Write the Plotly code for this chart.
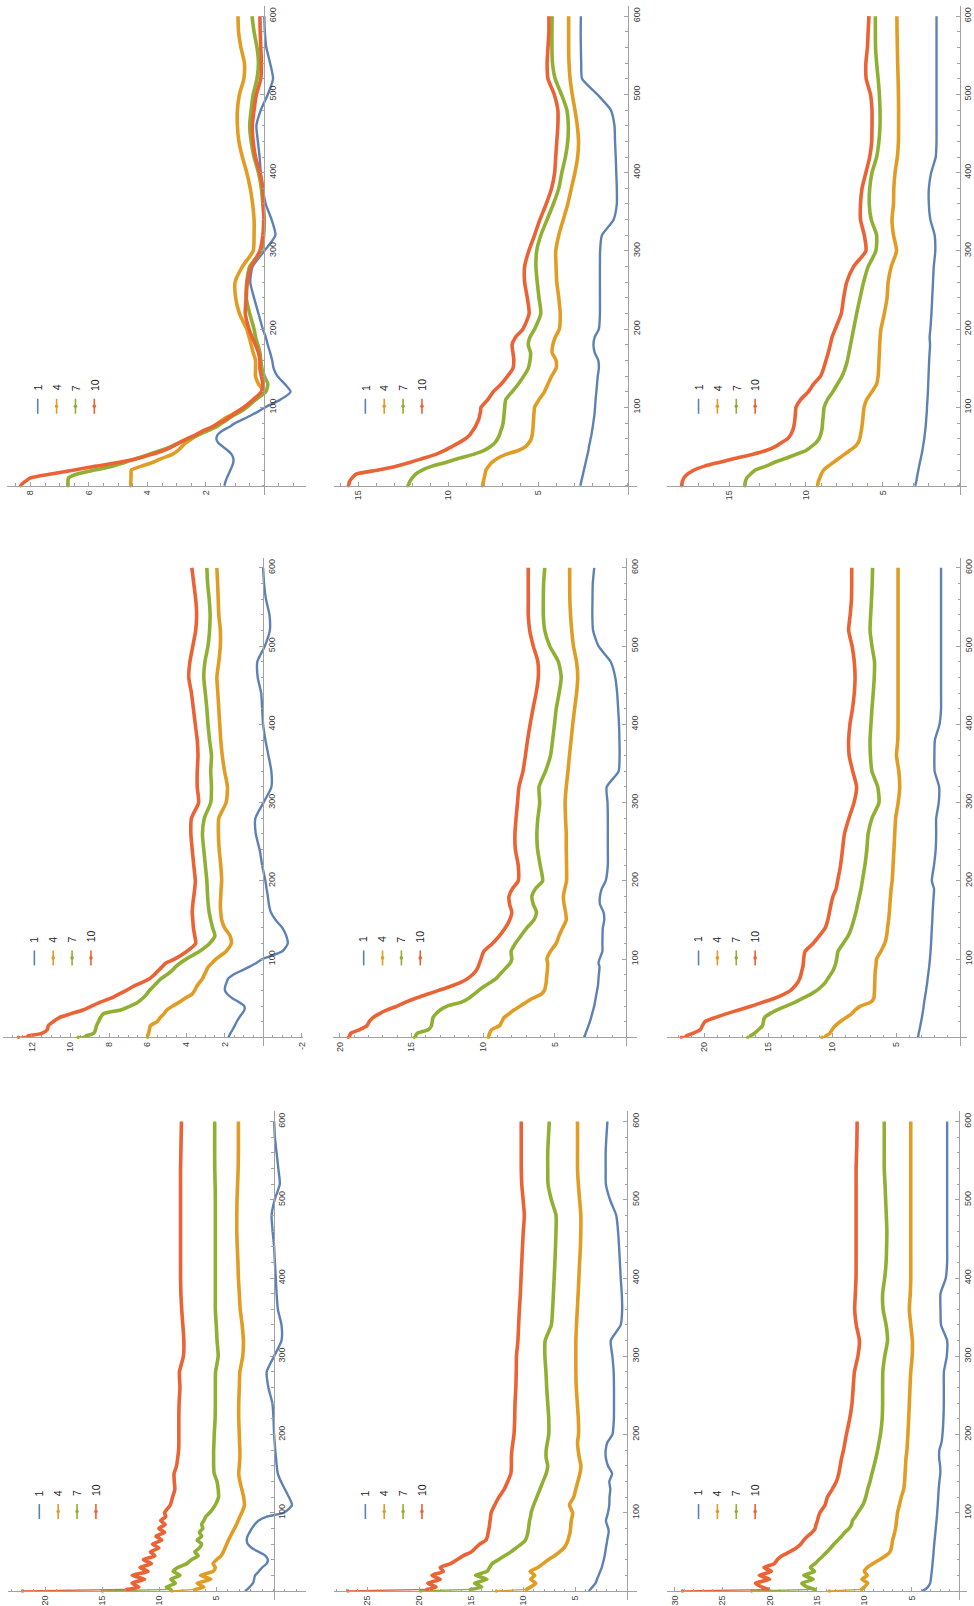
import math
import plotly.graph_objects as go

# sample times (shared by every series)
T = [0, 2] + list(range(5, 101, 5)) + list(range(110, 201, 10)) + list(range(220, 601, 20))
LABELS = ["1", "4", "7", "10"]
COLORS = ["#5E81B5", "#E19C24", "#8FB032", "#EB6235"]

# ---- top row -------------------------------------------------------------
a1_s1 = [1.37, 1.35, 1.33, 1.28, 1.22, 1.16, 1.1, 1.06, 1.06, 1.12, 1.25, 1.42, 1.58, 1.64, 1.6, 1.45, 1.2, 1.0, 0.72, 0.45, 0.2, -0.02,
         -0.55, -0.9, -0.7, -0.45, -0.32, -0.27, -0.2, -0.12, -0.05, 0.05,
         0.2, 0.35, 0.48, 0.4, 0.0, -0.38, -0.25, -0.05, 0.05, 0.12, 0.16, 0.22, 0.27, 0.12, -0.12, -0.3, -0.2, -0.07, -0.02, 0.0]
a1_s4 = [4.57, 4.57, 4.57, 4.56, 4.56, 4.55, 4.2, 3.8, 3.5, 3.15, 2.95, 2.82, 2.68, 2.48, 2.28, 2.0, 1.75, 1.58, 1.4, 1.15, 0.9, 0.7,
         0.3, 0.02, 0.2, 0.3, 0.3, 0.3, 0.38, 0.45, 0.52, 0.6,
         0.85, 0.98, 1.0, 0.75, 0.38, 0.35, 0.35, 0.4, 0.48, 0.6, 0.75, 0.87, 0.92, 0.92, 0.85, 0.7, 0.68, 0.8, 0.88, 0.9]
a1_s7 = [6.72, 6.72, 6.72, 6.7, 6.4, 5.8, 5.2, 4.75, 4.35, 3.95, 3.55, 3.2, 2.9, 2.6, 2.25, 1.95, 1.65, 1.45, 1.25, 1.05, 0.8, 0.6,
         0.3, -0.05, -0.12, 0.0, 0.08, 0.12, 0.15, 0.22, 0.3, 0.35,
         0.5, 0.62, 0.6, 0.5, 0.1, 0.02, 0.0, 0.05, 0.1, 0.2, 0.35, 0.45, 0.5, 0.45, 0.38, 0.25, 0.2, 0.25, 0.35, 0.42]
a1_s10 = [8.34, 8.3, 8.2, 8.0, 7.3, 6.5, 5.75, 4.95, 4.3, 3.85, 3.45, 3.15, 2.9, 2.65, 2.35, 2.1, 1.8, 1.55, 1.3, 1.1, 0.9, 0.7,
          0.38, 0.1, 0.05, 0.1, 0.15, 0.15, 0.2, 0.3, 0.42, 0.52,
          0.65, 0.62, 0.58, 0.45, 0.15, 0.05, 0.02, 0.03, 0.05, 0.15, 0.3, 0.38, 0.41, 0.35, 0.27, 0.12, 0.1, 0.12, 0.14, 0.15]

a2_s1 = [2.65, 2.63, 2.6, 2.55, 2.5, 2.45, 2.4, 2.35, 2.3, 2.25, 2.2, 2.17, 2.12, 2.08, 2.03, 2.0, 1.96, 1.93, 1.9, 1.87, 1.85, 1.83,
         1.8, 1.76, 1.72, 1.68, 1.62, 1.65, 1.85, 1.92, 1.85, 1.62,
         1.56, 1.56, 1.56, 1.56, 1.55, 1.45, 0.8, 0.62, 0.62, 0.65, 0.68, 0.72, 0.75, 0.95, 1.7, 2.55, 2.6, 2.62, 2.63, 2.62]
a2_s4 = [8.1, 8.08, 8.05, 8.0, 7.95, 7.9, 7.75, 7.55, 7.25, 6.8, 6.1, 5.7, 5.5, 5.38, 5.33, 5.3, 5.28, 5.27, 5.25, 5.24, 5.22, 5.2,
         4.95, 4.65, 4.45, 4.25, 4.0, 4.0, 4.22, 4.18, 4.04, 3.82,
         3.77, 3.85, 3.96, 4.0, 4.02, 3.85, 3.6, 3.35, 3.15, 2.95, 2.8, 2.75, 2.82, 2.95, 3.1, 3.22, 3.28, 3.3, 3.3, 3.3]
a2_s7 = [12.25, 12.2, 12.15, 12.0, 11.8, 11.45, 10.9, 10.1, 9.4, 8.6, 8.0, 7.65, 7.4, 7.25, 7.15, 7.08, 7.0, 6.95, 6.92, 6.9, 6.88, 6.86,
         6.8, 6.45, 6.1, 5.8, 5.55, 5.45, 5.42, 5.55, 5.45, 5.2,
         4.85, 4.95, 5.05, 5.12, 5.08, 4.85, 4.5, 4.15, 3.85, 3.68, 3.48, 3.35, 3.32, 3.4, 3.7, 4.05, 4.2, 4.23, 4.23, 4.22]
a2_s10 = [15.56, 15.53, 15.5, 15.35, 15.1, 13.9, 12.9, 12.1, 11.4, 10.7, 10.2, 9.8, 9.4, 9.05, 8.8, 8.65, 8.5, 8.4, 8.3, 8.25, 8.2, 8.18,
          7.8, 7.5, 7.05, 6.7, 6.4, 6.35, 6.4, 6.45, 6.25, 5.85,
          5.5, 5.6, 5.75, 5.75, 5.52, 5.2, 4.9, 4.55, 4.25, 4.08, 4.02, 3.96, 3.9, 3.9, 4.1, 4.45, 4.5, 4.45, 4.4, 4.4]

a3_s1 = [2.88, 2.86, 2.82, 2.78, 2.73, 2.68, 2.63, 2.58, 2.52, 2.47, 2.42, 2.38, 2.34, 2.3, 2.27, 2.24, 2.21, 2.19, 2.17, 2.15, 2.13, 2.12,
         2.09, 2.06, 2.04, 2.02, 2.0, 1.98, 1.95, 1.92, 1.95, 1.9,
         1.83, 1.78, 1.73, 1.68, 1.58, 1.62, 1.9, 2.0, 2.0, 1.85, 1.55, 1.5, 1.5, 1.5, 1.5, 1.5, 1.5, 1.5, 1.5, 1.5]
a3_s4 = [9.25, 9.23, 9.2, 9.1, 9.0, 8.85, 8.55, 8.2, 7.85, 7.5, 7.15, 6.8, 6.6, 6.5, 6.45, 6.4, 6.36, 6.33, 6.3, 6.28, 6.25, 6.22,
         6.05, 5.7, 5.4, 5.3, 5.27, 5.25, 5.22, 5.2, 5.17, 5.12,
         4.9, 4.72, 4.65, 4.45, 4.1, 4.3, 4.4, 4.3, 4.28, 4.2, 4.05, 3.98, 3.97, 3.97, 3.98, 4.0, 4.03, 4.05, 4.07, 4.08]
a3_s7 = [13.98, 13.97, 13.95, 13.85, 13.6, 13.3, 12.6, 12.05, 11.3, 10.65, 10.0, 9.65, 9.35, 9.15, 9.05, 8.98, 8.94, 8.92, 8.9, 8.87, 8.85, 8.82,
         8.6, 8.25, 7.95, 7.65, 7.45, 7.3, 7.2, 7.1, 7.0, 6.9,
         6.7, 6.48, 6.25, 5.95, 5.45, 5.4, 5.75, 5.88, 5.85, 5.7, 5.4, 5.25, 5.18, 5.18, 5.22, 5.3, 5.4, 5.47, 5.48, 5.48]
a3_s10 = [18.1, 18.08, 18.05, 17.95, 17.7, 17.3, 16.6, 15.6, 14.6, 13.5, 12.6, 12.0, 11.6, 11.2, 11.0, 10.88, 10.8, 10.75, 10.72, 10.7, 10.68, 10.65,
          10.35, 9.85, 9.5, 9.05, 8.85, 8.7, 8.55, 8.42, 8.3, 8.1,
          7.7, 7.55, 7.35, 6.9, 6.1, 6.2, 6.45, 6.45, 6.35, 6.1, 5.85, 5.72, 5.7, 5.7, 5.8, 6.08, 6.1, 6.0, 5.95, 5.9]

# ---- middle row ----------------------------------------------------------
b1_s1 = [1.8, 1.76, 1.7, 1.58, 1.47, 1.37, 1.25, 1.1, 0.97, 0.98, 1.25, 1.6, 1.85, 1.98, 1.97, 1.9, 1.82, 1.55, 1.15, 0.72, 0.35, 0.05,
         -1.0, -1.28, -1.2, -1.0, -0.65, -0.4, -0.3, -0.25, -0.18, -0.12,
         0.05, 0.18, 0.38, 0.4, -0.02, -0.43, -0.43, -0.28, -0.12, 0.0, 0.05, 0.1, 0.28, 0.3, -0.09, -0.35, -0.33, -0.15, -0.05, 0.0]
b1_s4 = [6.0, 6.0, 5.95, 5.9, 5.85, 5.5, 5.35, 5.15, 5.0, 4.7, 4.35, 4.05, 3.7, 3.55, 3.45, 3.3, 3.15, 3.05, 2.95, 2.85, 2.65, 2.45,
         1.92, 1.65, 1.72, 2.0, 2.15, 2.2, 2.22, 2.2, 2.18, 2.15,
         2.2, 2.28, 2.32, 2.3, 1.92, 1.85, 2.0, 2.12, 2.2, 2.25, 2.3, 2.35, 2.4, 2.3, 2.22, 2.22, 2.3, 2.33, 2.36, 2.4]
b1_s7 = [9.6, 9.2, 8.8, 8.7, 8.65, 8.55, 8.45, 8.3, 7.4, 6.9, 6.5, 6.25, 6.05, 5.9, 5.7, 5.5, 5.3, 5.0, 4.75, 4.55, 4.3, 4.0,
         3.3, 2.78, 2.5, 2.62, 2.72, 2.8, 2.85, 2.88, 2.9, 2.92,
         3.0, 3.08, 3.15, 3.05, 2.72, 2.68, 2.72, 2.68, 2.78, 2.86, 2.92, 3.0, 3.08, 3.02, 2.86, 2.78, 2.75, 2.8, 2.88, 2.92]
b1_s10 = [12.7, 12.2, 11.5, 11.2, 11.15, 10.9, 10.6, 10.0, 9.35, 8.9, 8.45, 7.9, 7.5, 7.1, 6.75, 6.3, 5.9, 5.65, 5.45, 5.25, 5.05, 4.6,
          3.95, 3.5, 3.55, 3.62, 3.65, 3.68, 3.65, 3.6, 3.55, 3.52,
          3.6, 3.68, 3.75, 3.72, 3.35, 3.42, 3.42, 3.38, 3.42, 3.52, 3.62, 3.72, 3.86, 3.8, 3.65, 3.5, 3.45, 3.5, 3.6, 3.7]

b2_s1 = [2.92, 2.89, 2.85, 2.75, 2.65, 2.55, 2.47, 2.4, 2.32, 2.25, 2.2, 2.15, 2.1, 2.05, 2.0, 1.97, 1.95, 1.93, 1.9, 1.88, 1.95, 1.88,
         1.68, 1.68, 1.67, 1.65, 1.55, 1.6, 1.85, 1.85, 1.72, 1.45,
         1.3, 1.3, 1.3, 1.3, 1.32, 1.38, 0.55, 0.48, 0.49, 0.52, 0.58, 0.65, 0.78, 1.1, 1.95, 2.33, 2.38, 2.37, 2.35, 2.25]
b2_s4 = [9.62, 9.6, 9.55, 9.4, 8.85, 8.7, 8.55, 8.2, 7.85, 7.4, 7.0, 6.55, 5.95, 5.72, 5.65, 5.6, 5.58, 5.55, 5.52, 5.5, 5.5, 5.55,
         5.3, 4.9, 4.7, 4.45, 4.2, 4.25, 4.35, 4.4, 4.3, 4.18,
         4.18, 4.2, 4.2, 4.25, 4.28, 4.2, 4.08, 3.98, 3.86, 3.75, 3.62, 3.48, 3.4, 3.48, 3.7, 3.82, 3.9, 3.95, 3.96, 3.96]
b2_s7 = [14.8, 14.7, 14.6, 13.8, 13.6, 13.55, 13.5, 13.3, 13.0, 12.5, 11.5, 11.0, 10.65, 10.3, 9.95, 9.5, 9.1, 8.85, 8.6, 8.35, 8.1, 8.0,
         8.05, 7.75, 7.35, 6.95, 6.45, 6.28, 6.5, 6.6, 6.35, 5.85,
         6.02, 6.2, 6.25, 6.18, 6.05, 6.1, 5.65, 5.3, 5.15, 5.02, 4.9, 4.7, 4.55, 4.75, 5.35, 5.7, 5.8, 5.8, 5.78, 5.7]
b2_s10 = [19.4, 19.3, 19.25, 18.6, 18.1, 17.95, 17.7, 17.25, 16.7, 16.0, 15.4, 14.7, 13.9, 13.1, 12.3, 11.6, 11.1, 10.75, 10.5, 10.35, 10.25, 10.15,
          9.95, 9.35, 8.85, 8.45, 8.15, 8.0, 8.15, 8.2, 7.95, 7.55,
          7.55, 7.75, 7.78, 7.7, 7.6, 7.5, 7.22, 7.05, 6.9, 6.72, 6.52, 6.3, 6.15, 6.18, 6.5, 6.75, 6.85, 6.85, 6.85, 6.85]

b3_s1 = [3.3, 3.28, 3.25, 3.18, 3.12, 3.06, 3.0, 2.95, 2.9, 2.86, 2.82, 2.77, 2.72, 2.67, 2.63, 2.58, 2.55, 2.51, 2.47, 2.43, 2.4, 2.37,
         2.32, 2.28, 2.25, 2.22, 2.18, 2.16, 2.12, 2.08, 2.05, 2.22,
         2.05, 1.92, 1.88, 1.88, 1.68, 1.65, 2.0, 2.02, 1.98, 1.62, 1.5, 1.5, 1.5, 1.5, 1.5, 1.5, 1.5, 1.5, 1.5, 1.5]
b3_s4 = [10.8, 10.5, 10.2, 10.0, 9.75, 9.4, 8.95, 8.5, 8.2, 7.8, 7.0, 6.75, 6.72, 6.7, 6.69, 6.68, 6.67, 6.66, 6.64, 6.6, 6.57, 6.54,
         6.2, 5.9, 5.75, 5.68, 5.6, 5.54, 5.5, 5.45, 5.4, 5.32,
         5.25, 5.18, 5.12, 5.05, 4.85, 4.73, 4.8, 4.98, 4.88, 4.86, 4.86, 4.86, 4.86, 4.86, 4.86, 4.86, 4.86, 4.86, 4.86, 4.86]
b3_s7 = [16.6, 16.4, 16.1, 15.75, 15.45, 15.38, 15.3, 14.9, 14.3, 13.6, 12.9, 12.3, 11.7, 11.2, 10.85, 10.55, 10.35, 10.15, 9.95, 9.82, 9.72, 9.66,
         9.55, 9.15, 8.75, 8.5, 8.32, 8.15, 8.02, 7.88, 7.75, 7.65,
         7.45, 7.3, 7.2, 6.9, 6.35, 6.45, 6.9, 7.02, 7.05, 6.98, 6.9, 6.8, 6.72, 6.7, 6.9, 7.05, 7.0, 6.93, 6.88, 6.85]
b3_s10 = [21.8, 21.4, 20.9, 20.3, 20.15, 19.95, 19.2, 18.3, 17.3, 16.3, 15.4, 14.5, 13.8, 13.25, 12.95, 12.7, 12.55, 12.45, 12.38, 12.3, 12.26, 12.24,
          12.12, 11.5, 11.0, 10.55, 10.35, 10.22, 10.1, 9.95, 9.7, 9.58,
          9.35, 9.2, 9.05, 8.7, 8.3, 8.1, 8.4, 8.68, 8.72, 8.62, 8.42, 8.28, 8.22, 8.28, 8.45, 8.72, 8.6, 8.5, 8.48, 8.48]

# ---- bottom row ----------------------------------------------------------
c1_s1 = [2.5, 2.3, 2.1, 1.8, 1.7, 1.62, 1.3, 1.0, 0.6, 0.5, 0.7, 1.3, 1.9, 2.25, 2.35, 2.28, 2.1, 1.9, 1.65, 1.3, 0.6, -0.9,
         -1.62, -1.35, -1.0, -0.65, -0.38, -0.28, -0.22, -0.15, -0.1, -0.05,
         0.0, 0.1, 0.45, 0.6, -0.05, -0.7, -0.7, -0.38, -0.27, -0.2, -0.12, -0.05, 0.08, 0.17, -0.1, -0.55, -0.42, -0.27, -0.12, -0.06]
c1_s4 = [8.9, 6.9, 6.1, 6.7, 5.5, 6.4, 5.3, 5.1, 5.3, 5.0, 4.6, 4.4, 4.25, 4.1, 3.95, 3.78, 3.6, 3.42, 3.25, 3.1, 2.95, 2.78,
         2.55, 2.62, 2.78, 2.95, 3.05, 3.0, 2.95, 2.95, 2.98, 3.0,
         3.05, 3.05, 3.0, 2.95, 2.7, 2.64, 2.75, 2.92, 3.0, 3.08, 3.12, 3.18, 3.22, 3.22, 3.2, 3.15, 3.1, 3.08, 3.08, 3.08]
c1_s7 = [15.0, 9.0, 9.4, 8.6, 9.0, 8.2, 8.8, 8.4, 7.6, 7.2, 6.6, 6.9, 6.5, 6.3, 6.7, 6.3, 6.5, 6.2, 6.3, 6.1, 5.95, 5.6,
         5.1, 4.82, 4.85, 4.95, 5.2, 5.25, 5.25, 5.25, 5.22, 5.2,
         5.12, 5.1, 5.1, 5.08, 4.85, 4.95, 5.02, 5.1, 5.1, 5.1, 5.1, 5.1, 5.1, 5.1, 5.1, 5.12, 5.15, 5.16, 5.16, 5.16]
c1_s10 = [22.0, 12.9, 11.8, 12.4, 11.3, 12.4, 11.0, 11.7, 10.7, 11.4, 10.4, 10.8, 10.05, 10.6, 9.8, 10.3, 9.55, 10.05, 9.5, 9.9, 9.45, 9.55,
          9.05, 8.85, 8.65, 8.7, 8.72, 8.5, 8.4, 8.32, 8.3, 8.3,
          8.3, 8.28, 8.2, 8.25, 7.9, 7.86, 7.95, 8.05, 8.12, 8.15, 8.15, 8.15, 8.15, 8.15, 8.15, 8.15, 8.15, 8.12, 8.1, 8.07]

c2_s1 = [3.7, 3.55, 3.35, 3.05, 2.9, 2.75, 2.6, 2.45, 2.35, 2.25, 2.17, 2.1, 2.05, 1.98, 1.92, 1.85, 1.78, 1.82, 1.95, 2.05, 1.95, 1.85,
         1.72, 1.7, 1.62, 1.72, 1.45, 1.85, 2.05, 2.07, 1.9, 1.42,
         1.28, 1.27, 1.27, 1.3, 1.42, 1.58, 0.62, 0.48, 0.52, 0.62, 0.7, 0.78, 0.88, 1.05, 1.65, 2.05, 2.07, 2.07, 2.0, 1.9]
c2_s4 = [12.6, 9.7, 9.3, 8.8, 9.3, 8.9, 9.35, 8.6, 8.1, 7.6, 7.0, 6.5, 6.1, 5.85, 5.7, 5.6, 5.5, 5.45, 5.42, 5.38, 5.3, 5.25,
         5.55, 5.15, 4.95, 4.75, 4.55, 4.45, 4.6, 4.72, 4.78, 4.68,
         4.7, 4.8, 4.9, 4.94, 4.94, 4.94, 4.88, 4.8, 4.72, 4.65, 4.58, 4.5, 4.46, 4.46, 4.58, 4.7, 4.78, 4.78, 4.78, 4.78]
c2_s7 = [19.9, 15.1, 14.0, 14.7, 13.5, 14.6, 13.5, 13.25, 13.0, 12.4, 11.8, 11.2, 10.7, 10.2, 9.8, 9.65, 9.56, 9.5, 9.45, 9.4, 9.3, 9.25,
         9.0, 8.7, 8.4, 8.1, 7.8, 7.65, 7.8, 7.8, 7.68, 7.55,
         7.55, 7.65, 7.75, 7.82, 7.92, 7.9, 7.3, 7.18, 7.1, 7.03, 6.96, 6.9, 6.85, 6.85, 7.3, 7.62, 7.65, 7.65, 7.58, 7.5]
c2_s10 = [26.9, 19.3, 18.4, 19.2, 18.0, 18.8, 17.7, 18.0, 17.0, 16.4, 15.8, 15.0, 14.6, 14.2, 13.6, 13.45, 13.38, 13.3, 13.25, 13.2, 13.15, 13.1,
          12.75, 12.35, 11.85, 11.5, 11.2, 11.15, 11.15, 11.1, 11.0, 10.9,
          10.83, 10.8, 10.72, 10.68, 10.66, 10.52, 10.45, 10.38, 10.28, 10.22, 10.15, 10.08, 10.0, 9.9, 10.02, 10.15, 10.2, 10.2, 10.2, 10.2]

c3_s1 = [3.9, 3.6, 3.3, 3.05, 2.98, 2.93, 2.88, 2.84, 2.8, 2.76, 2.72, 2.69, 2.66, 2.62, 2.58, 2.54, 2.5, 2.46, 2.42, 2.38, 2.34, 2.31,
         2.25, 2.2, 2.15, 2.08, 1.98, 2.0, 2.1, 2.08, 1.85, 1.75,
         1.65, 1.61, 1.61, 1.6, 1.3, 1.26, 1.9, 1.96, 1.96, 1.4, 1.26, 1.26, 1.26, 1.26, 1.26, 1.26, 1.26, 1.26, 1.26, 1.26]
c3_s4 = [13.7, 10.3, 10.0, 9.65, 10.25, 9.7, 10.0, 9.7, 9.1, 8.4, 7.75, 7.3, 7.15, 7.08, 7.02, 6.9, 6.8, 6.7, 6.65, 6.6, 6.55, 6.5,
         6.3, 6.1, 5.85, 5.75, 5.7, 5.65, 5.6, 5.5, 5.45, 5.4,
         5.32, 5.25, 5.18, 5.1, 4.95, 4.93, 5.1, 5.25, 5.15, 5.1, 5.1, 5.1, 5.1, 5.1, 5.1, 5.1, 5.1, 5.1, 5.1, 5.1]
c3_s7 = [21.9, 15.2, 16.0, 16.6, 15.4, 16.4, 15.25, 15.7, 15.2, 14.8, 14.35, 13.95, 13.55, 13.2, 12.8, 12.4, 12.05, 11.6, 11.35, 11.25, 10.95, 10.7,
         10.15, 9.85, 9.65, 9.4, 9.2, 8.98, 8.78, 8.6, 8.45, 8.3,
         8.12, 8.07, 8.07, 8.05, 7.85, 7.55, 7.7, 8.02, 8.07, 7.85, 7.7, 7.65, 7.62, 7.68, 7.75, 7.82, 7.9, 7.9, 7.9, 7.9]
c3_s10 = [29.2, 20.1, 20.8, 21.5, 20.0, 21.1, 19.8, 20.6, 19.5, 19.2, 18.7, 17.9, 17.2, 16.7, 16.4, 16.0, 15.5, 15.2, 15.1, 14.95, 14.85, 14.7,
          14.15, 13.9, 13.4, 12.95, 12.7, 12.55, 12.4, 12.2, 12.05, 11.9,
          11.55, 11.3, 11.18, 11.05, 10.68, 10.52, 10.85, 11.02, 10.95, 10.88, 10.87, 10.87, 10.87, 10.87, 10.87, 10.87, 10.87, 10.82, 10.78, 10.76]

PANELS = [
    [a1_s1, a1_s4, a1_s7, a1_s10], [a2_s1, a2_s4, a2_s7, a2_s10], [a3_s1, a3_s4, a3_s7, a3_s10],
    [b1_s1, b1_s4, b1_s7, b1_s10], [b2_s1, b2_s4, b2_s7, b2_s10], [b3_s1, b3_s4, b3_s7, b3_s10],
    [c1_s1, c1_s4, c1_s7, c1_s10], [c2_s1, c2_s4, c2_s7, c2_s10], [c3_s1, c3_s4, c3_s7, c3_s10],
]

# ---- page geometry (pixels) ----------------------------------------------
W, H = 974, 1606
PX_PER_T = 0.783          # vertical pixels per time unit
T_LO, T_HI = -11.5, 613   # time range shown by each panel

# zx: x of the value-zero line, k: pixels per value unit,
# left/right: ends of the value axis, base: y of the time-zero line
GEOM = [
    dict(zx=266.2, k=29.43, left=6.7, right=308.0, base=486, major=2, minor=0.5),
    dict(zx=632.5, k=18.1, left=336.7, right=641.7, base=486, major=5, minor=1),
    dict(zx=966.5, k=15.47, left=672.3, right=980, base=486, major=5, minor=1),
    dict(zx=265.0, k=19.4, left=3.3, right=305.0, base=1038, major=2, minor=0.5),
    dict(zx=631.0, k=14.44, left=335.0, right=641.7, base=1038, major=5, minor=1),
    dict(zx=967.2, k=12.89, left=672.3, right=980, base=1038, major=5, minor=1),
    dict(zx=275.5, k=11.49, left=8.3, right=308.3, base=1592, major=5, minor=1),
    dict(zx=631.7, k=10.46, left=336.7, right=641.7, base=1592, major=5, minor=1),
    dict(zx=966.0, k=9.54, left=672.3, right=980, base=1592, major=5, minor=1),
]

AXIS_GRAY = "#a2a2a2"
TICK_FONT = dict(family="Liberation Sans, Arial, sans-serif", size=9, color="#3c3c3c")
LEGEND_FONT = dict(family="Liberation Sans, Arial, sans-serif", size=10.5, color="#222222")
WIDTHS = [2.4, 3.6, 3.6, 3.6]


def steps(lo, hi, step):
    a = math.ceil(lo / step - 1e-9)
    b = math.floor(hi / step + 1e-9)
    return [round(i * step, 6) for i in range(a, b + 1)]


fig = go.Figure()
layout = dict(
    width=W, height=H, autosize=False,
    margin=dict(l=0, r=0, t=0, b=0, pad=0),
    paper_bgcolor="white", plot_bgcolor="white",
    showlegend=False,
)
shapes, annotations = [], []

for p, (series, g) in enumerate(zip(PANELS, GEOM)):
    for j, arr in enumerate(series):
        if len(arr) != len(T):
            raise ValueError(f"panel {p}, series {LABELS[j]}: {len(arr)} values for {len(T)} times")

    sfx = "" if p == 0 else str(p + 1)
    right = min(g["right"], W)
    vmax = (g["zx"] - g["left"]) / g["k"]
    vmin = (g["zx"] - right) / g["k"]
    top_px = g["base"] - T_HI * PX_PER_T
    bot_px = g["base"] - T_LO * PX_PER_T

    for j, arr in enumerate(series):
        # the opening jump from the first sample is drawn as a thin stroke with dots
        if j > 0:
            fig.add_trace(go.Scatter(
                x=arr[:2], y=T[:2], mode="lines+markers",
                xaxis="x" + sfx, yaxis="y" + sfx,
                line=dict(color=COLORS[j], width=1.3),
                marker=dict(color=COLORS[j], size=3.5),
                hoverinfo="skip",
            ))
        fig.add_trace(go.Scatter(
            x=arr[1:] if j > 0 else arr, y=T[1:] if j > 0 else T,
            mode="lines", name=LABELS[j],
            xaxis="x" + sfx, yaxis="y" + sfx,
            line=dict(color=COLORS[j], width=WIDTHS[j], shape="spline", smoothing=0.6),
            hoverinfo="skip",
        ))

    vticks = [v for v in steps(vmin, vmax, g["major"]) if v != 0]
    layout["xaxis" + sfx] = dict(
        domain=[g["left"] / W, right / W],
        range=[vmax, vmin],
        anchor="free", position=1 - g["base"] / H, side="bottom",
        showline=True, linecolor=AXIS_GRAY, linewidth=1,
        showgrid=False, zeroline=False,
        ticks="inside", ticklen=4, tickwidth=1, tickcolor=AXIS_GRAY,
        tickmode="array", tickvals=vticks, ticktext=[f"{v:g}" for v in vticks],
        tickangle=-90, tickfont=TICK_FONT,
        minor=dict(tickmode="array", tickvals=steps(vmin, vmax, g["minor"]),
                   ticks="inside", ticklen=2.5, tickcolor=AXIS_GRAY, tickwidth=1),
        fixedrange=True,
    )
    tticks = [100, 200, 300, 400, 500, 600]
    layout["yaxis" + sfx] = dict(
        domain=[1 - bot_px / H, 1 - top_px / H],
        range=[T_LO, T_HI],
        anchor="free", position=g["zx"] / W, side="right",
        showline=True, linecolor=AXIS_GRAY, linewidth=1,
        showgrid=False, zeroline=False,
        ticks="inside", ticklen=4, tickwidth=1, tickcolor=AXIS_GRAY,
        tickmode="array", tickvals=tticks, ticktext=[str(v) for v in tticks],
        tickangle=-90, tickfont=TICK_FONT,
        minor=dict(tickmode="array", tickvals=list(range(0, 601, 20)),
                   ticks="inside", ticklen=2.5, tickcolor=AXIS_GRAY, tickwidth=1),
        fixedrange=True,
    )

    # legend: a short line per series, a dot for the marked series, label above
    lx0 = g["left"] + 31.3
    y_top, y_bot = g["base"] - 87, g["base"] - 72
    for j, lab in enumerate(LABELS):
        cx = lx0 + 19 * j
        shapes.append(dict(type="line", xref="paper", yref="paper",
                           x0=cx / W, x1=cx / W, y0=1 - y_top / H, y1=1 - y_bot / H,
                           line=dict(color=COLORS[j], width=1.6)))
        if j > 0:
            ym = (y_top + y_bot) / 2
            r = 1.8
            shapes.append(dict(type="circle", xref="paper", yref="paper",
                               x0=(cx - r) / W, x1=(cx + r) / W,
                               y0=1 - (ym + r) / H, y1=1 - (ym - r) / H,
                               fillcolor=COLORS[j], line=dict(width=0)))
        annotations.append(dict(xref="paper", yref="paper", x=cx / W, y=1 - (g["base"] - 93) / H,
                                text=lab, showarrow=False, textangle=-90,
                                xanchor="center", yanchor="bottom", font=LEGEND_FONT))

layout["shapes"] = shapes
layout["annotations"] = annotations
fig.update_layout(**layout)
fig.write_html("out.html")
